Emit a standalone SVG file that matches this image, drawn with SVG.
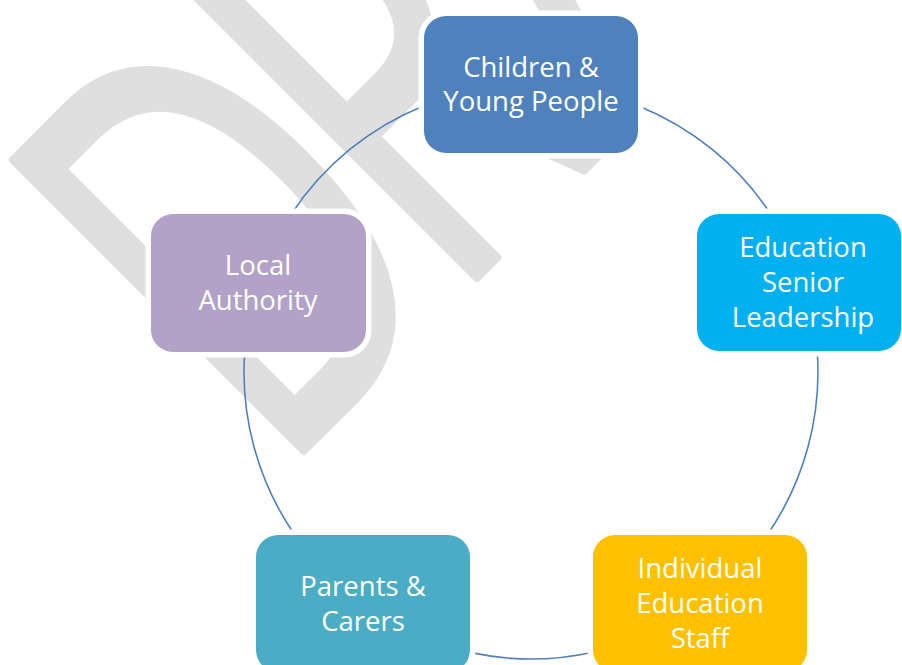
<svg xmlns="http://www.w3.org/2000/svg" width="902" height="665" viewBox="0 0 902 665">
  <style>
    .wm { font-family: "Open Sans", "Liberation Sans", sans-serif; font-size: 575px; fill: #DFDFDF; stroke: #DFDFDF; stroke-width: 9; stroke-linejoin: round; }
    .box { stroke: #FFFFFF; stroke-width: 11; paint-order: stroke; }
    .lbl { font-family: "Open Sans", "Liberation Sans", sans-serif; font-size: 27.5px; fill: #FFFFFF; text-anchor: middle; }
    .arc { fill: none; stroke: #4F81BD; stroke-width: 1.6; }
  </style>
  <rect x="0" y="0" width="902" height="665" fill="#FFFFFF"/>
  <g id="watermark">
    <text class="wm" transform="translate(277,477) rotate(-45) scale(0.65,1)" x="0" y="0" dx="0 -41 10 0 0">DRAFT</text>
  </g>
  <g id="connectors">
    <path class="arc" d="M638,105.7 A287,287 0 0 1 770.6,214"/>
    <path class="arc" d="M817.2,351 A287,287 0 0 1 767.2,535"/>
    <path class="arc" d="M593,652.2 A287,287 0 0 1 470,652.4"/>
    <path class="arc" d="M294.8,535 A287,287 0 0 1 244.7,352"/>
    <path class="arc" d="M291.4,214 A287,287 0 0 1 424,105.7"/>
  </g>
  <g id="node-children">
    <rect class="box" x="424" y="16" width="214" height="137" rx="22" fill="#4F81BD"/>
    <text class="lbl" x="531" y="76.5">Children &amp;</text>
    <text class="lbl" x="531" y="111">Young People</text>
  </g>
  <g id="node-senior">
    <rect class="box" x="697" y="214" width="204" height="137" rx="22" fill="#00B0F0"/>
    <text class="lbl" x="803" y="256.5">Education</text>
    <text class="lbl" x="803" y="291.5">Senior</text>
    <text class="lbl" x="803" y="326.5">Leadership</text>
  </g>
  <g id="node-staff">
    <rect class="box" x="593" y="535" width="214" height="137" rx="22" fill="#FFC000"/>
    <text class="lbl" x="700" y="577.5">Individual</text>
    <text class="lbl" x="700" y="612.5">Education</text>
    <text class="lbl" x="700" y="647.5">Staff</text>
  </g>
  <g id="node-parents">
    <rect class="box" x="256" y="535" width="214" height="137" rx="22" fill="#4BACC6"/>
    <text class="lbl" x="363" y="595.5">Parents &amp;</text>
    <text class="lbl" x="363" y="630.5">Carers</text>
  </g>
  <g id="node-local">
    <rect class="box" x="151" y="214" width="215" height="138" rx="22" fill="#B2A2C7"/>
    <text class="lbl" x="258" y="275">Local</text>
    <text class="lbl" x="258" y="309.5">Authority</text>
  </g>
</svg>
